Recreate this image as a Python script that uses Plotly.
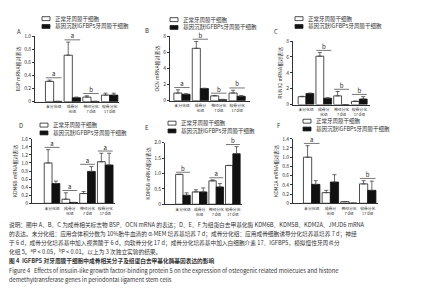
import plotly.graph_objects as go

W, H = 424, 300

# ---------------- data ----------------
categories = ["未分化组", "成骨分<br>化组", "神经分化<br>7 d组", "软骨分化<br>17 d组"]
legend_labels = ["正常牙周膜干细胞", "基因沉默IGFBP5牙周膜干细胞"]
panel_letters = ["A", "B", "C", "D", "E", "F"]
y_titles = ["BSP mRNA相对表达", "OCN mRNA相对表达", "RUNX2 mRNA相对表达",
            "KDM6B mRNA相对表达", "KDM5B mRNA相对表达", "KDM2A mRNA相对表达"]

A_normal = [0.31, 0.71, 0.07, 0.10]
A_normal_err = [0.02, 0.20, 0.02, 0.03]
A_silenced = [0.004, 0.06, 0.004, 0.10]
A_silenced_err = [0.0, 0.01, 0.0, 0.03]
A_sig = ["a", "a", "b", ""]

B_normal = [0.95, 6.5, 0.6, 0.95]
B_normal_err = [0.40, 0.85, 0.05, 0.35]
B_silenced = [0.8, 1.5, 0.12, 0.55]
B_silenced_err = [0.05, 0.05, 0.05, 0.08]
B_sig = ["a", "b", "b", "b"]

C_normal = [1.0, 6.1, 1.1, 0.4]
C_normal_err = [0.05, 0.45, 0.55, 0.05]
C_silenced = [1.4, 0.8, 0.0, 0.7]
C_silenced_err = [0.05, 0.05, 0.0, 0.3]
C_sig = ["", "b", "b", "b"]

D_normal = [1.0, 0.1, 0.24, 1.03]
D_normal_err = [0.33, 0.16, 0.05, 0.21]
D_silenced = [0.49, 0.02, 0.79, 0.95]
D_silenced_err = [0.06, 0.0, 0.12, 0.29]
D_sig = ["a", "a", "a", "a"]

E_normal = [0.97, 0.40, 0.76, 1.26]
E_normal_err = [0.0, 0.07, 0.03, 0.0]
E_silenced = [0.29, 0.40, 0.56, 1.64]
E_silenced_err = [0.08, 0.13, 0.11, 0.23]
E_sig = ["b", "", "a", "b"]

F_normal = [1.0, 0.23, 0.035, 0.42]
F_normal_err = [0.25, 0.05, 0.0, 0.07]
F_silenced = [0.41, 0.46, 0.0, 0.28]
F_silenced_err = [0.08, 0.16, 0.0, 0.20]
F_sig = ["a", "", "", "b"]

y_ticks = [
    [0, 0.2, 0.4, 0.6, 0.8, 1.0],
    [0, 2, 4, 6, 8],
    [0, 2, 4, 6, 8],
    [0, 0.2, 0.4, 0.6, 0.8, 1.0, 1.2, 1.4, 1.6],
    [0, 0.5, 1.0, 1.5, 2.0],
    [0, 0.2, 0.4, 0.6, 0.8, 1.0, 1.2, 1.4],
]
y_tick_text = [
    ["0", "0.2", "0.4", "0.6", "0.8", "1.0"],
    ["0", "2", "4", "6", "8"],
    ["0", "2", "4", "6", "8"],
    ["0", "0.2", "0.4", "0.6", "0.8", "1.0", "1.2", "1.4", "1.6"],
    ["0", "0.5", "1.0", "1.5", "2.0"],
    ["0", "0.2", "0.4", "0.6", "0.8", "1.0", "1.2", "1.4"],
]

caption_lines = [
    "说明：图中 A、B、C 为成骨相关标志物 BSP、OCN mRNA 的表达；D、E、F 为组蛋白去甲基化酶 KDM6B、KDM5B、KDM2A、JMJD6 mRNA",
    "的表达。未分化组：应用含体积分数为 10%胎牛血清的 α-MEM 培养基培养 7 d；成骨分化组：应用成骨细胞诱导分化培养基培养 7 d；神经",
    "于 6 d，成骨分化培养基中加入视黄酸于 6 d，向软骨分化 17 d；成骨分化培养基中加入白细胞介素 17、IGFBP5，模拟慢性牙周炎分",
    "化组 5。<sup>a</sup>P < 0.05，<sup>b</sup>P < 0.01。以上为 3 次独立实验的结果。",
    "<b>图 4  IGFBP5 对牙周膜干细胞中成骨相关分子及组蛋白去甲基化酶基因表达的影响</b>",
    "Figure 4   Effects of insulin-like growth factor-binding protein 5 on the expression of osteogenic related molecules and histone",
    "demethyltransferase genes in periodontal ligament stem cells",
]

panels_normal = [A_normal, B_normal, C_normal, D_normal, E_normal, F_normal]
panels_normal_err = [A_normal_err, B_normal_err, C_normal_err, D_normal_err, E_normal_err, F_normal_err]
panels_sil = [A_silenced, B_silenced, C_silenced, D_silenced, E_silenced, F_silenced]
panels_sil_err = [A_silenced_err, B_silenced_err, C_silenced_err, D_silenced_err, E_silenced_err, F_silenced_err]
panels_sig = [A_sig, B_sig, C_sig, D_sig, E_sig, F_sig]

# ---------------- layout geometry (px) ----------------
geom = [
    (35, 119, 33, 100, -1.0, 3.5),
    (170, 250, 33, 99, -0.65, 3.7),
    (293, 370, 38, 103, -0.73, 3.6),
    (32, 115, 138, 204, -1.13, 3.55),
    (165, 242, 142, 205, -1.08, 3.55),
    (293, 378, 138, 204, -1.0, 3.55),
]
letter_pos = [(15, 22), (147, 20), (276, 22), (17, 124), (147, 126), (279, 124)]
legend_pos = [(42, 15), (170, 16), (295, 15), (40, 124), (168, 122), (303, 120)]
LEG_DY = 8

TXT = "#333333"
FONT = "Noto Sans CJK SC"

def fx(px):
    return px / W

def fy(py):
    return 1 - py / H

fig = go.Figure()
annotations = []
shapes = []
layout_axes = {}

for i in range(6):
    n = "" if i == 0 else str(i + 1)
    xa, ya = "x" + n, "y" + n
    x0, x1, yt, yb, xlo, xhi = geom[i]
    ymax = y_ticks[i][-1]
    xs = list(range(len(categories)))

    fig.add_trace(go.Bar(
        x=xs, y=panels_normal[i], xaxis=xa, yaxis=ya,
        marker=dict(color="white", line=dict(color="#222222", width=0.8)),
        error_y=dict(type="data", array=panels_normal_err[i], symmetric=False,
                     arrayminus=[0] * 4, color="#444444", thickness=0.8, width=2),
        offsetgroup="n", showlegend=False, name=legend_labels[0]))
    fig.add_trace(go.Bar(
        x=xs, y=panels_sil[i], xaxis=xa, yaxis=ya,
        marker=dict(color="#111111", line=dict(color="#111111", width=0.8)),
        error_y=dict(type="data", array=panels_sil_err[i], symmetric=False,
                     arrayminus=[0] * 4, color="#444444", thickness=0.8, width=2),
        offsetgroup="s", showlegend=False, name=legend_labels[1]))

    sx, sy, tx, ty, tt = [], [], [], [], []
    for g, letter in enumerate(panels_sig[i]):
        if not letter:
            continue
        top = max(panels_normal[i][g] + panels_normal_err[i][g],
                  panels_sil[i][g] + panels_sil_err[i][g])
        h = top + 0.035 * ymax
        sx += [g - 0.42, g + 0.42, None]
        sy += [h, h, None]
        tx.append(g)
        ty.append(h)
        tt.append(letter)
    if sx:
        fig.add_trace(go.Scatter(x=sx, y=sy, xaxis=xa, yaxis=ya, mode="lines",
                                 line=dict(color="#555555", width=0.8),
                                 showlegend=False, hoverinfo="skip"))
        fig.add_trace(go.Scatter(x=tx, y=ty, xaxis=xa, yaxis=ya, mode="text",
                                 text=tt, textposition="top center",
                                 textfont=dict(size=6, color="#222222", family=FONT),
                                 showlegend=False, hoverinfo="skip", cliponaxis=False))

    layout_axes["xaxis" + n] = dict(
        domain=[fx(x0), fx(x1)], anchor=ya, range=[xlo, xhi],
        tickvals=xs, ticktext=categories, tickangle=0, showline=True,
        linecolor="#333333", linewidth=0.8, ticks="", showgrid=False,
        zeroline=False, tickfont=dict(size=3.8, color=TXT, family=FONT),
        ticklabelstandoff=1)
    layout_axes["yaxis" + n] = dict(
        domain=[fy(yb), fy(yt)], anchor=xa, range=[0, ymax],
        tickvals=y_ticks[i], ticktext=y_tick_text[i], showline=True,
        linecolor="#333333", linewidth=0.8, ticks="outside", ticklen=2,
        tickwidth=0.8, tickcolor="#333333", showgrid=False, zeroline=False,
        tickfont=dict(size=5, color=TXT, family=FONT),
        title=dict(text=y_titles[i], font=dict(size=5, color=TXT, family=FONT),
                   standoff=3))

    lx, ly = letter_pos[i]
    annotations.append(dict(x=fx(lx), y=fy(ly), xref="paper", yref="paper",
                            text=panel_letters[i], showarrow=False,
                            font=dict(size=6, color=TXT, family=FONT)))
    gx, gy = legend_pos[i]
    for k in range(2):
        cy = gy + k * LEG_DY
        shapes.append(dict(type="rect", xref="paper", yref="paper",
                           x0=fx(gx), x1=fx(gx + 8), y0=fy(cy - 2), y1=fy(cy + 2),
                           fillcolor="white" if k == 0 else "#111111",
                           line=dict(color="#222222", width=0.8)))
        annotations.append(dict(x=fx(gx + 11), y=fy(cy), xref="paper", yref="paper",
                                text=legend_labels[k], showarrow=False,
                                xanchor="left", yanchor="middle",
                                font=dict(size=5.5, color=TXT, family=FONT)))

cap_y = [226, 235, 244, 253, 263, 273, 282]
for j, line in enumerate(caption_lines):
    annotations.append(dict(x=fx(7), y=fy(cap_y[j]), xref="paper", yref="paper",
                            text=line, showarrow=False, xanchor="left",
                            yanchor="middle",
                            font=dict(size=5.7, color=TXT, family=FONT)))

fig.update_layout(
    width=W, height=H, margin=dict(l=0, r=0, t=0, b=0),
    paper_bgcolor="white", plot_bgcolor="white",
    barmode="group", bargap=0.12, bargroupgap=0,
    annotations=annotations, shapes=shapes, showlegend=False,
    font=dict(family=FONT, color=TXT),
    **layout_axes)

fig.write_html("out.html")
